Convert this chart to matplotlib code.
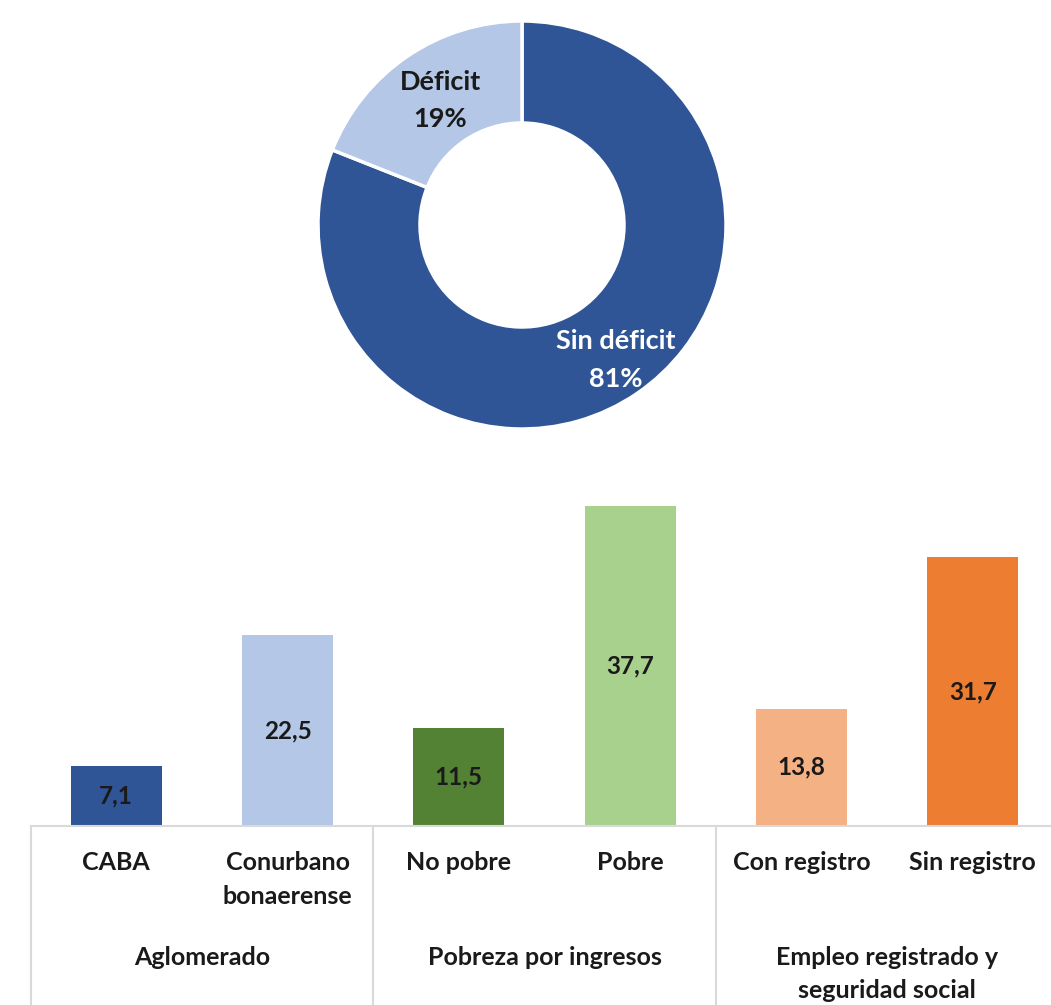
import numpy as np
import matplotlib
matplotlib.use("Agg")
from matplotlib import pyplot as plt
from matplotlib import transforms

plt.rcParams['font.family'] = ['Lato', 'DejaVu Sans']
plt.rcParams['font.weight'] = 'bold'

# donut: deficit share
donut_labels = ['Sin déficit', 'Déficit']
donut_values = [81, 19]
donut_colors = ['#2F5597', '#B4C7E7']

# bars: deficit by group
bar_labels = ['CABA', 'Conurbano\nbonaerense', 'No pobre', 'Pobre', 'Con registro', 'Sin registro']
bar_values = [7.1, 22.5, 11.5, 37.7, 13.8, 31.7]
bar_colors = ['#2F5597', '#B4C7E7', '#548235', '#A9D18E', '#F4B183', '#ED7D31']
group_labels = ['Aglomerado', 'Pobreza por ingresos', 'Empleo registrado y\nseguridad social']

W, H = 1051, 1005
fig = plt.figure(figsize=(W / 100, H / 100), dpi=100)

# ---------------- donut ----------------
cx, cy, r = 522, 225, 204
pad = 1.05
ax1 = fig.add_axes([(cx - r * pad) / W, (H - cy - r * pad) / H, 2 * r * pad / W, 2 * r * pad / H])
wedges, _ = ax1.pie(donut_values, colors=donut_colors, startangle=90, counterclock=False,
                    radius=1, wedgeprops=dict(width=0.5, edgecolor='white', linewidth=2.5))
ax1.set_xlim(-pad, pad)
ax1.set_ylim(-pad, pad)
ax1.set_aspect('equal')
ax1.axis('off')

ax1.text(-0.40, 0.61, f"{donut_labels[1]}\n{donut_values[1]}%", ha='center', va='center',
         fontsize=19.5, color='#1a1a1a', linespacing=1.65)
ax1.text(0.46, -0.66, f"{donut_labels[0]}\n{donut_values[0]}%", ha='center', va='center',
         fontsize=19.5, color='white', linespacing=1.7)

# ---------------- bars ----------------
x_left, slot = 30.6, 171.3
base_y = 826
px_per_unit = 8.49
ymax = 40
ax2 = fig.add_axes([x_left / W, (H - base_y) / H, 6 * slot / W, ymax * px_per_unit / H])
x = np.arange(len(bar_values))
bars = ax2.bar(x, bar_values, width=0.53, color=bar_colors)
ax2.set_xlim(-0.5, 5.5)
ax2.set_ylim(0, ymax)
for s in ['top', 'right', 'left']:
    ax2.spines[s].set_visible(False)
ax2.spines['bottom'].set_color('#D9D9D9')
ax2.spines['bottom'].set_linewidth(1.5)
ax2.set_yticks([])
ax2.set_xticks([])

for xi, v in zip(x, bar_values):
    ax2.text(xi, v / 2, f"{v:.1f}".replace('.', ','), ha='center', va='center',
             fontsize=17.5, color='#1a1a1a')

# category axis below the bars
tr = transforms.blended_transform_factory(ax2.transData, fig.transFigure)
for xi, lab in zip(x, bar_labels):
    ax2.text(xi, (H - 851) / H, lab, transform=tr, ha='center', va='top',
             fontsize=18, color='#1a1a1a', linespacing=1.6, clip_on=False)

for g, lab in enumerate(group_labels):
    ax2.text(2 * g + 0.5, (H - 946) / H, lab, transform=tr, ha='center', va='top',
             fontsize=18, color='#1a1a1a', linespacing=1.5, clip_on=False)

# group separators running down from the axis line
for xd in [-0.5, 1.5, 3.5, 5.5]:
    ax2.plot([xd, xd], [(H - base_y) / H, 0], transform=tr, color='#D9D9D9',
             linewidth=1.5, clip_on=False)

fig.savefig('out.png', dpi=100)
